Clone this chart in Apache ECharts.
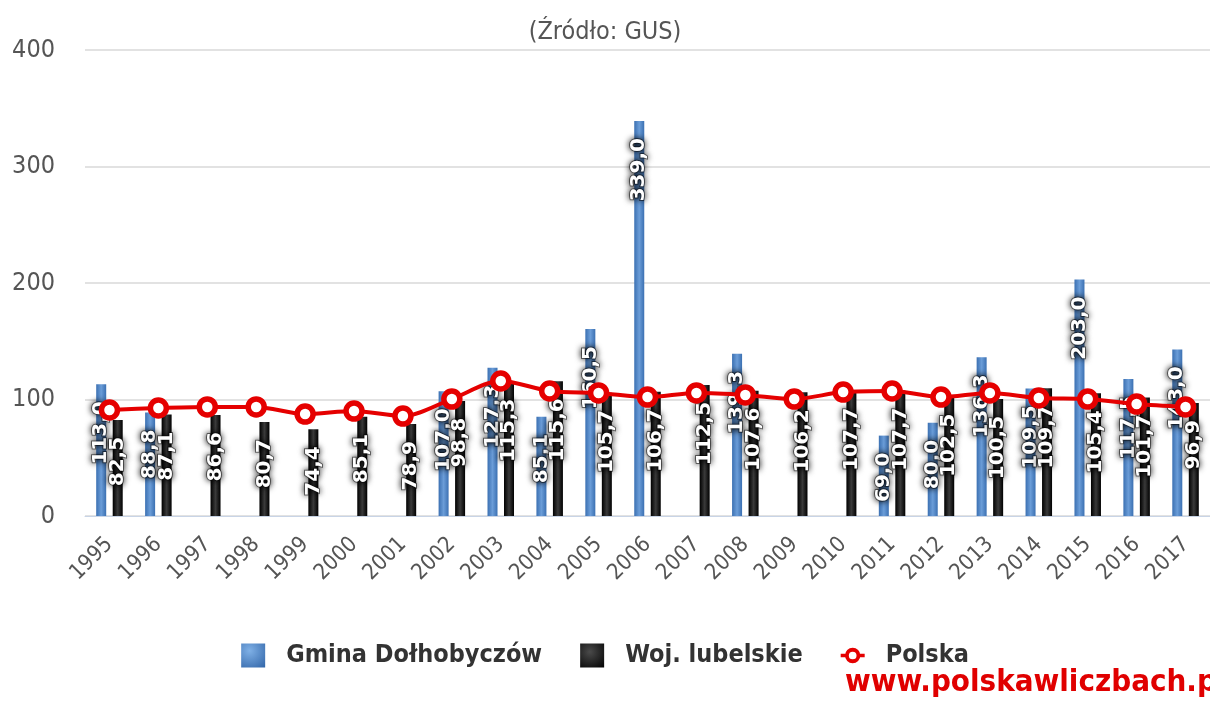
<!DOCTYPE html>
<html>
<head>
<meta charset="utf-8">
<script src="https://cdn.jsdelivr.net/npm/echarts@6/dist/echarts.min.js"></script>
<style>
  html, body { margin: 0; padding: 0; background: #fff; }
  #chart { width: 1210px; height: 708px; }
</style>
</head>
<body>
<div id="chart"></div>
<script>
var FONT = '"DejaVu Sans Condensed", "Liberation Sans Narrow", "Open Sans", sans-serif';
var FONT_WIDE = '"DejaVu Sans", "Open Sans", sans-serif';

// lata
var years = ['1995', '1996', '1997', '1998', '1999', '2000', '2001', '2002', '2003', '2004', '2005', '2006',
    '2007', '2008', '2009', '2010', '2011', '2012', '2013', '2014', '2015', '2016', '2017'];

// Gmina Dołhobyczów (brak danych = null)
var gmina = [113.0, 88.8, null, null, null, null, null, 107.0, 127.3, 85.1, 160.5, 339.0,
    null, 139.3, null, null, 69.0, 80.0, 136.3, 109.5, 203.0, 117.5, 143.0];

// Woj. lubelskie
var lubelskie = [82.5, 87.1, 86.6, 80.7, 74.4, 85.1, 78.9, 98.8, 115.3, 115.6, 105.7, 106.7,
    112.5, 107.6, 106.2, 107.7, 107.7, 102.5, 100.5, 109.7, 105.4, 101.7, 96.9];

// Polska
var polska = [91.0, 92.7, 93.6, 93.6, 87.5, 90.1, 85.8, 100.4, 115.9, 107.3, 105.6, 102.1,
    105.6, 103.9, 100.4, 106.4, 107.3, 102.1, 105.6, 101.3, 100.4, 96.1, 93.6];

var chart = echarts.init(document.getElementById('chart'));

// etykiety na słupkach: biały tekst z cieniem, obrócony
var barLabel = {
    show: true,
    position: 'insideTop',
    distance: 17,
    rotate: 90,
    align: 'right',
    verticalAlign: 'middle',
    color: '#fff',
    fontFamily: FONT_WIDE,
    fontWeight: 'bold',
    fontSize: 20,
    textBorderColor: 'rgba(0,0,0,0.5)',
    textBorderWidth: 2,
    textShadowColor: '#000',
    textShadowBlur: 6,
    formatter: function (p) {
        if (p.value == null) return '';
        return p.value.toFixed(1).replace('.', ',');
    }
};

// ikona legendy dla linii: kreska + pierścień
var ringIcon = 'path://M0,8H6V12H0Z M22,8H28V12H22Z M5,10A9,9 0 1,1 23,10A9,9 0 1,1 5,10Z M9.5,10A4.5,4.5 0 1,0 18.5,10A4.5,4.5 0 1,0 9.5,10Z';

var option = {
    animation: false,
    backgroundColor: '#fff',
    textStyle: { fontFamily: FONT },
    title: {
        text: '(Źródło: GUS)',
        left: 'center',
        top: 15,
        textStyle: { color: '#555', fontSize: 25, fontWeight: 'normal', fontFamily: FONT }
    },
    legend: {
        bottom: 35,
        left: 'center',
        itemGap: 38,
        itemWidth: 24,
        itemHeight: 24,
        textStyle: { color: '#333', fontSize: 25, fontWeight: 'bold', fontFamily: FONT, padding: [0, 0, 0, 16] },
        data: [
            {
                name: 'Gmina Dołhobyczów',
                icon: 'rect',
                itemStyle: {
                    color: new echarts.graphic.RadialGradient(0.35, 0.3, 0.9, [
                        { offset: 0, color: '#7fb0e6' },
                        { offset: 1, color: '#3569ab' }
                    ])
                }
            },
            {
                name: 'Woj. lubelskie',
                icon: 'rect',
                itemStyle: {
                    color: new echarts.graphic.RadialGradient(0.4, 0.35, 0.9, [
                        { offset: 0, color: '#4a4a4a' },
                        { offset: 1, color: '#000' }
                    ])
                }
            },
            {
                name: 'Polska',
                icon: ringIcon,
                itemStyle: { color: '#e50000', borderWidth: 0 }
            }
        ]
    },
    grid: {
        left: 85,
        right: -8,
        top: 50,
        bottom: 192
    },
    xAxis: {
        type: 'category',
        data: years,
        axisLine: { lineStyle: { color: '#c8d4e6' } },
        axisTick: { length: 20, lineStyle: { color: '#c8d4e6' } },
        axisLabel: {
            rotate: 45,
            color: '#555',
            fontSize: 22,
            fontFamily: FONT,
            margin: 25
        }
    },
    yAxis: {
        type: 'value',
        min: 0,
        max: 400,
        interval: 100,
        axisLine: { show: false },
        axisTick: { show: false },
        axisLabel: { color: '#555', fontSize: 25, fontFamily: FONT, margin: 30 },
        splitLine: { lineStyle: { color: '#d8d8d8', width: 1.5 } }
    },
    series: [
        {
            name: 'Gmina Dołhobyczów',
            type: 'bar',
            barWidth: 10,
            barGap: '65%',
            data: gmina,
            itemStyle: {
                color: new echarts.graphic.LinearGradient(0, 0, 1, 0, [
                    { offset: 0, color: '#3b70b2' },
                    { offset: 0.5, color: '#6b9dd8' },
                    { offset: 1, color: '#3b70b2' }
                ])
            },
            label: barLabel
        },
        {
            name: 'Woj. lubelskie',
            type: 'bar',
            barWidth: 10,
            barGap: '65%',
            data: lubelskie,
            itemStyle: {
                color: new echarts.graphic.LinearGradient(0, 0, 1, 0, [
                    { offset: 0, color: '#000' },
                    { offset: 0.5, color: '#3a3a3a' },
                    { offset: 1, color: '#000' }
                ])
            },
            label: barLabel
        },
        {
            name: 'Polska',
            type: 'line',
            data: polska,
            smooth: 0.3,
            symbol: 'circle',
            symbolSize: 16,
            z: 5,
            lineStyle: { color: '#e50000', width: 4 },
            itemStyle: { color: '#fff', borderColor: '#e50000', borderWidth: 5.5 }
        }
    ],
    graphic: [
        {
            type: 'text',
            left: 845,
            top: 667,
            style: {
                text: 'www.polskawliczbach.pl',
                fill: '#e00000',
                font: 'bold 31px ' + FONT
            }
        }
    ]
};

chart.setOption(option);
</script>
</body>
</html>
